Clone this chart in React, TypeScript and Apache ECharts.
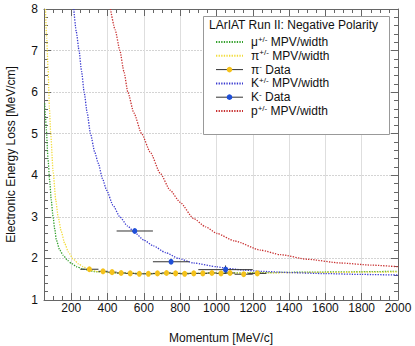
import React, { useEffect, useRef } from 'react';
import * as echarts from 'echarts';

// Momentum [MeV/c], dE/dx [MeV/cm]
const muonCurve: number[][] = [
  [54, 5.73], [58, 5.4], [63, 5.09], [72, 4.4], [81, 3.88], [90, 3.4], [100, 3.0], [110, 2.68],
  [118, 2.44], [137, 2.2], [155, 2.08], [180, 1.95], [201, 1.88], [230, 1.8], [266, 1.74],
  [340, 1.68], [468, 1.645], [600, 1.635], [800, 1.64], [1000, 1.645], [1200, 1.655],
  [1500, 1.67], [1800, 1.68], [2000, 1.69],
];
const pionCurve: number[][] = [
  [58, 8.0], [65, 7.3], [72, 6.6], [80, 5.6], [87, 5.0], [100, 4.1], [115, 3.4], [128, 3.0],
  [145, 2.65], [164, 2.36], [185, 2.15], [210, 1.99], [240, 1.87], [266, 1.8], [303, 1.72],
  [350, 1.68], [400, 1.66], [500, 1.645], [700, 1.635], [1000, 1.645], [1300, 1.655],
  [1600, 1.665], [2000, 1.675],
];
const kaonCurve: number[][] = [
  [214, 8.0], [228, 7.45], [243, 7.0], [257, 6.5], [271, 6.0], [288, 5.5], [306, 5.0],
  [330, 4.55], [349, 4.29], [372, 3.92], [395, 3.64], [430, 3.28], [468, 3.0], [510, 2.78],
  [551, 2.62], [600, 2.44], [653, 2.3], [720, 2.14], [791, 2.0], [874, 1.89], [1003, 1.8],
  [1058, 1.76], [1150, 1.72], [1242, 1.69], [1400, 1.66], [1600, 1.635], [1800, 1.615],
  [2000, 1.6],
];
const protonCurve: number[][] = [
  [416, 8.0], [442, 7.5], [468, 7.0], [490, 6.5], [512, 6.0], [545, 5.5], [588, 5.0],
  [635, 4.56], [690, 4.05], [745, 3.64], [800, 3.35], [874, 2.96], [940, 2.76], [1003, 2.6],
  [1100, 2.42], [1242, 2.2], [1353, 2.09], [1500, 1.98], [1684, 1.89], [1850, 1.84],
  [2000, 1.8],
];

// pi- data
const pionMomentum = [300, 375, 425, 475, 525, 575, 625, 675, 725, 775, 825, 875, 925, 975, 1025, 1075, 1150, 1225];
const pionMomentumErr = [50, 25, 25, 25, 25, 25, 25, 25, 25, 25, 25, 25, 25, 25, 25, 25, 50, 50];
const pionDedx = [1.74, 1.69, 1.67, 1.65, 1.64, 1.63, 1.63, 1.64, 1.65, 1.64, 1.63, 1.64, 1.64, 1.65, 1.64, 1.65, 1.62, 1.64];
const pionDedxErr = [0.01, 0.01, 0.01, 0.01, 0.01, 0.01, 0.01, 0.01, 0.01, 0.01, 0.01, 0.01, 0.01, 0.01, 0.01, 0.01, 0.01, 0.01];

// K- data
const kaonMomentum = [550, 750, 1050];
const kaonMomentumErr = [100, 100, 150];
const kaonDedx = [2.66, 1.92, 1.73];
const kaonDedxErr = [0.03, 0.03, 0.1];

const xTickLabels = [200, 400, 600, 800, 1000, 1200, 1400, 1600, 1800, 2000];
const yTickLabels = [1, 2, 3, 4, 5, 6, 7, 8];

const legendTitle = 'LArIAT Run II: Negative Polarity';
const legendNames = ['mu', 'pi', 'piData', 'K', 'KData', 'p'];
const legendLabels: Record<string, string> = {
  mu: '{n|μ}{s|+/-}{n| MPV/width}',
  pi: '{n|π}{s|+/-}{n| MPV/width}',
  piData: '{n|π}{s|-}{n| Data}',
  K: '{n|K}{s|+/-}{n| MPV/width}',
  KData: '{n|K}{s|-}{n| Data}',
  p: '{n|p}{s|+/-}{n| MPV/width}',
};

const FONT = '"Liberation Sans", Arial, Helvetica, sans-serif';
const X_MIN = 50;
const X_MAX = 2000;
const Y_MIN = 1;
const Y_MAX = 8;
const TICK_COLOR = '#666';

function errorRows(x: number[], ex: number[], y: number[], ey: number[]) {
  return x.map((v, i) => [v, y[i], ex[i], ey[i]]);
}

const renderError = (color: string) => (params: any, api: any) => {
  const x = api.value(0);
  const y = api.value(1);
  const ex = api.value(2);
  const ey = api.value(3);
  const l = api.coord([x - ex, y]);
  const r = api.coord([x + ex, y]);
  const b = api.coord([x, y - ey]);
  const t = api.coord([x, y + ey]);
  return {
    type: 'group',
    children: [
      { type: 'line', shape: { x1: l[0], y1: l[1], x2: r[0], y2: r[1] }, style: { stroke: color, lineWidth: 1 } },
      { type: 'line', shape: { x1: b[0], y1: b[1], x2: t[0], y2: t[1] }, style: { stroke: color, lineWidth: 1 } },
    ],
  };
};

function curveSeries(name: string, data: number[][], color: string) {
  return {
    name,
    type: 'line',
    data,
    showSymbol: false,
    symbol: 'none',
    smooth: 0.2,
    smoothMonotone: 'x',
    lineStyle: { color, width: 1.3, type: [1.3, 1.3] },
    itemStyle: { color },
    z: 3,
  };
}

export default function App() {
  const ref = useRef<HTMLDivElement>(null);
  useEffect(() => {
    const chart = echarts.init(ref.current!, null, { renderer: 'svg' });
    const baseX = { type: 'value', min: X_MIN, max: X_MAX };
    const baseY = { type: 'value', min: Y_MIN, max: Y_MAX, interval: 1 };
    const option: any = {
      animation: false,
      backgroundColor: '#fff',
      textStyle: { fontFamily: FONT },
      grid: { left: 44, right: 17, top: 9, bottom: 46, outerBoundsMode: 'none', containLabel: false },
      title: {
        text: legendTitle,
        left: 209,
        top: 19,
        padding: 0,
        textStyle: { fontFamily: FONT, fontSize: 12, fontWeight: 'normal', color: '#111' },
        z: 6,
      },
      graphic: [
        {
          type: 'rect',
          shape: { x: 203.5, y: 16.5, width: 186, height: 118 },
          style: { fill: '#fff', stroke: '#999', lineWidth: 1 },
          z: 3,
        },
      ],
      legend: {
        orient: 'vertical',
        left: 215,
        top: 35,
        padding: 0,
        itemWidth: 27,
        itemHeight: 7,
        itemGap: 0.8,
        data: legendNames.map((n) =>
          n === 'piData' || n === 'KData'
            ? { name: n, lineStyle: { color: '#333', width: 1, type: 'solid', opacity: 1 } }
            : { name: n, itemStyle: { opacity: 0 } }
        ),
        formatter: (name: string) => legendLabels[name],
        textStyle: {
          fontFamily: FONT,
          color: '#111',
          padding: [0, 0, 0, 3],
          rich: {
            n: { fontFamily: FONT, fontSize: 12, lineHeight: 14, color: '#111' },
            s: { fontFamily: FONT, fontSize: 8, lineHeight: 7, verticalAlign: 'top', color: '#111' },
          },
        },
        selectedMode: false,
        z: 5,
      },
      xAxis: [
        {
          ...baseX,
          position: 'bottom',
          name: 'Momentum [MeV/c]',
          nameLocation: 'middle',
          nameGap: 32,
          nameTextStyle: { fontFamily: FONT, fontSize: 12, color: '#111' },
          axisLine: { show: true, onZero: false, lineStyle: { color: TICK_COLOR } },
          axisTick: { show: true, inside: true, length: 7, customValues: xTickLabels, lineStyle: { color: TICK_COLOR } },
          axisLabel: {
            show: true,
            customValues: xTickLabels,
            margin: 2,
            fontFamily: FONT,
            fontSize: 12,
            color: '#111',
            formatter: (v: number) => String(v),
          },
          splitLine: { show: true, lineStyle: { color: '#dedede', width: 1 } },
        },
        {
          ...baseX,
          interval: 50,
          position: 'bottom',
          axisLine: { show: false },
          axisTick: { show: true, inside: true, length: 4, lineStyle: { color: TICK_COLOR } },
          axisLabel: { show: false },
          splitLine: { show: false },
        },
        {
          ...baseX,
          position: 'top',
          axisLine: { show: true, onZero: false, lineStyle: { color: TICK_COLOR } },
          axisTick: { show: true, inside: true, length: 7, customValues: xTickLabels, lineStyle: { color: TICK_COLOR } },
          axisLabel: { show: false },
          splitLine: { show: false },
        },
        {
          ...baseX,
          interval: 50,
          position: 'top',
          axisLine: { show: false },
          axisTick: { show: true, inside: true, length: 4, lineStyle: { color: TICK_COLOR } },
          axisLabel: { show: false },
          splitLine: { show: false },
        },
      ],
      yAxis: [
        {
          ...baseY,
          position: 'left',
          name: 'Electronic Energy Loss [MeV/cm]',
          nameLocation: 'middle',
          nameGap: 27,
          nameTextStyle: { fontFamily: FONT, fontSize: 12, color: '#111' },
          axisLine: { show: true, onZero: false, lineStyle: { color: TICK_COLOR } },
          axisTick: { show: true, inside: true, length: 7, lineStyle: { color: TICK_COLOR } },
          minorTick: { show: true, splitNumber: 5, length: 4, lineStyle: { color: TICK_COLOR } },
          axisLabel: {
            show: true,
            margin: 6,
            fontFamily: FONT,
            fontSize: 12,
            color: '#111',
            formatter: (v: number) => (yTickLabels.includes(v) ? String(v) : ''),
          },
          splitLine: { show: true, lineStyle: { color: '#d4d4d4', width: 1, type: [2, 1] } },
        },
        {
          ...baseY,
          position: 'right',
          axisLine: { show: true, onZero: false, lineStyle: { color: TICK_COLOR } },
          axisTick: { show: true, inside: true, length: 7, lineStyle: { color: TICK_COLOR } },
          minorTick: { show: true, splitNumber: 5, length: 4, lineStyle: { color: TICK_COLOR } },
          axisLabel: { show: false },
          splitLine: { show: false },
        },
      ],
      series: [
        curveSeries('mu', muonCurve, '#33a02c'),
        curveSeries('pi', pionCurve, '#f2dc3c'),
        curveSeries('K', kaonCurve, '#3a3ad0'),
        curveSeries('p', protonCurve, '#c83030'),
        {
          name: 'piErr',
          type: 'custom',
          data: errorRows(pionMomentum, pionMomentumErr, pionDedx, pionDedxErr),
          encode: { x: 0, y: 1 },
          renderItem: renderError('#333'),
          z: 4,
        },
        {
          name: 'KErr',
          type: 'custom',
          data: errorRows(kaonMomentum, kaonMomentumErr, kaonDedx, kaonDedxErr),
          encode: { x: 0, y: 1 },
          renderItem: renderError('#333'),
          z: 4,
        },
        {
          name: 'piData',
          type: 'line',
          data: pionMomentum.map((p, i) => [p, pionDedx[i]]),
          symbol: 'circle',
          symbolSize: [5, 6],
          showSymbol: true,
          lineStyle: { width: 0, opacity: 0 },
          itemStyle: { color: '#f5c21b' },
          z: 5,
        },
        {
          name: 'KData',
          type: 'line',
          data: kaonMomentum.map((p, i) => [p, kaonDedx[i]]),
          symbol: 'circle',
          symbolSize: [5, 6],
          showSymbol: true,
          lineStyle: { width: 0, opacity: 0 },
          itemStyle: { color: '#1f4fd8' },
          z: 5,
        },
      ],
    };
    chart.setOption(option);
    return () => chart.dispose();
  }, []);
  return <div ref={ref} style={{ position: 'absolute', left: 0, top: 0, width: 415, height: 346 }} />;
}
